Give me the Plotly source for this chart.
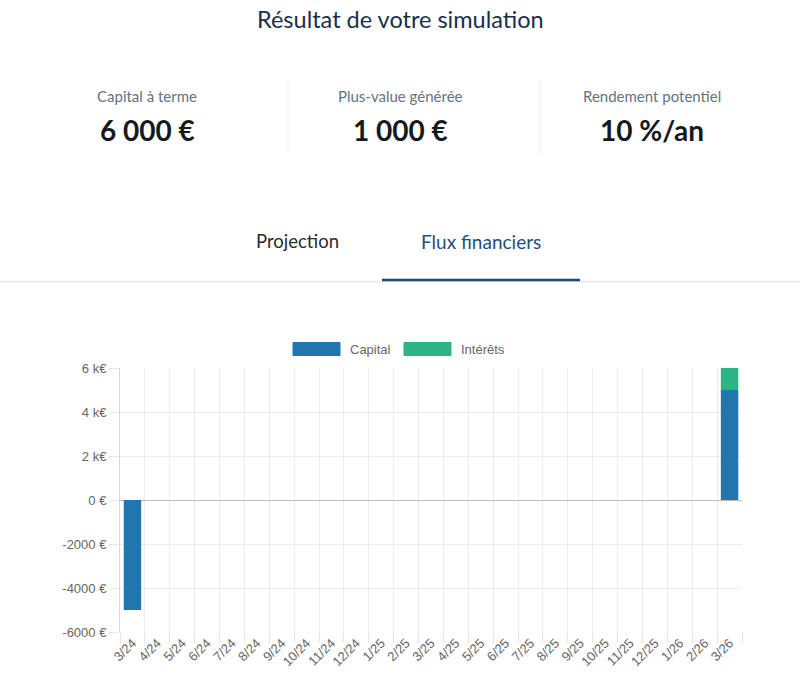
import plotly.graph_objects as go

# ---- data ----
months = ["3/24", "4/24", "5/24", "6/24", "7/24", "8/24", "9/24", "10/24", "11/24", "12/24",
          "1/25", "2/25", "3/25", "4/25", "5/25", "6/25", "7/25", "8/25", "9/25", "10/25",
          "11/25", "12/25", "1/26", "2/26", "3/26"]
capital = [-5000] + [0] * 23 + [5000]
interets = [0] * 24 + [1000]
series_names = ["Capital", "Intérêts"]
series_colors = ["#2077b0", "#2cb487"]
y_tickvals = [-6000, -4000, -2000, 0, 2000, 4000, 6000]
y_ticktext = ["-6000 €", "-4000 €", "-2000 €", "0 €", "2 k€", "4 k€", "6 k€"]
kpi_labels = ["Capital à terme", "Plus-value générée", "Rendement potentiel"]
kpi_values = ["6 000 €", "1 000 €", "10 %/an"]
tabs = ["Projection", "Flux financiers"]

W, H = 800, 677
ML, MR, MT, MB = 120, 58, 368, 45
PW = W - ML - MR
PH = H - MT - MB


def px(x):
    return (x - ML) / PW


def py(y):
    return (H - MB - y) / PH


fig = go.Figure()
for name, vals, col in zip(series_names, [capital, interets], series_colors):
    fig.add_trace(go.Bar(x=months, y=vals, name=name, marker_color=col,
                         marker_line_width=0, showlegend=False))

annotations = []
shapes = []

# title
annotations.append(dict(text="Résultat de votre simulation", x=px(400), y=py(19),
                        xref="paper", yref="paper", showarrow=False,
                        font=dict(family="Lato", size=23.5, color="#1b2f4b"),
                        xanchor="center", yanchor="middle"))
# KPIs
centers = [147, 400, 652]
for c, lab, val in zip(centers, kpi_labels, kpi_values):
    annotations.append(dict(text=lab, x=px(c), y=py(96), xref="paper", yref="paper",
                            showarrow=False, xanchor="center", yanchor="middle",
                            font=dict(family="Lato", size=15, color="#5f7580")))
    annotations.append(dict(text="<b>" + val + "</b>", x=px(c), y=py(130), xref="paper", yref="paper",
                            showarrow=False, xanchor="center", yanchor="middle",
                            font=dict(family="Lato", size=28, color="#151a20")))
for dx in [288, 540]:
    shapes.append(dict(type="line", xref="paper", yref="paper", x0=px(dx), x1=px(dx),
                       y0=py(80), y1=py(154), line=dict(color="#efefef", width=1)))

# tabs
annotations.append(dict(text=tabs[0], x=px(297), y=py(241), xref="paper", yref="paper",
                        showarrow=False, xanchor="center", yanchor="middle",
                        font=dict(family="Lato", size=18.5, color="#2b2b2b")))
annotations.append(dict(text=tabs[1], x=px(481), y=py(241), xref="paper", yref="paper",
                        showarrow=False, xanchor="center", yanchor="middle",
                        font=dict(family="Lato", size=19, color="#1e4e7c")))
shapes.append(dict(type="line", xref="paper", yref="paper", x0=px(0), x1=px(800),
                   y0=py(281.5), y1=py(281.5), line=dict(color="#e6e6e6", width=1.5)))
shapes.append(dict(type="line", xref="paper", yref="paper", x0=px(382), x1=px(580),
                   y0=py(280), y1=py(280), line=dict(color="#1d4a7d", width=2.5)))

# legend
leg = [(293, 348, series_names[0], series_colors[0]), (404, 459, series_names[1], series_colors[1])]
for bx, tx, name, col in leg:
    shapes.append(dict(type="rect", xref="paper", yref="paper", x0=px(bx), x1=px(bx + 47),
                       y0=py(355.5), y1=py(342.5), fillcolor=col, line=dict(color=col, width=1)))
    annotations.append(dict(text=name, x=px(tx), y=py(349), xref="paper", yref="paper",
                            showarrow=False, xanchor="left", yanchor="middle",
                            font=dict(family="Liberation Sans", size=13, color="#666666")))

fig.update_layout(
    width=W, height=H,
    margin=dict(l=ML, r=MR, t=MT, b=MB),
    paper_bgcolor="white", plot_bgcolor="white",
    barmode="relative", bargap=0.3,
    annotations=annotations, shapes=shapes,
    font=dict(family="Liberation Sans", color="#666666"),
    showlegend=False,
)
fig.update_xaxes(type="category", tickson="boundaries", ticks="outside", ticklen=10,
                 tickcolor="#e6e6e6", showgrid=True, gridcolor="#ececec", gridwidth=1,
                 tickangle=-45, tickfont=dict(size=13, color="#666666"),
                 showline=False, zeroline=False, automargin=False)
fig.update_yaxes(range=[-6000, 6000], tickvals=y_tickvals, ticktext=y_ticktext,
                 showgrid=True, gridcolor="#ececec", gridwidth=1,
                 zeroline=True, zerolinecolor="#bdbdbd", zerolinewidth=1,
                 ticks="outside", ticklen=10, tickcolor="#e6e6e6",
                 tickfont=dict(size=13, color="#666666"),
                 showline=True, linecolor="#d9d9d9", linewidth=1, automargin=False)

fig.write_html("out.html")
